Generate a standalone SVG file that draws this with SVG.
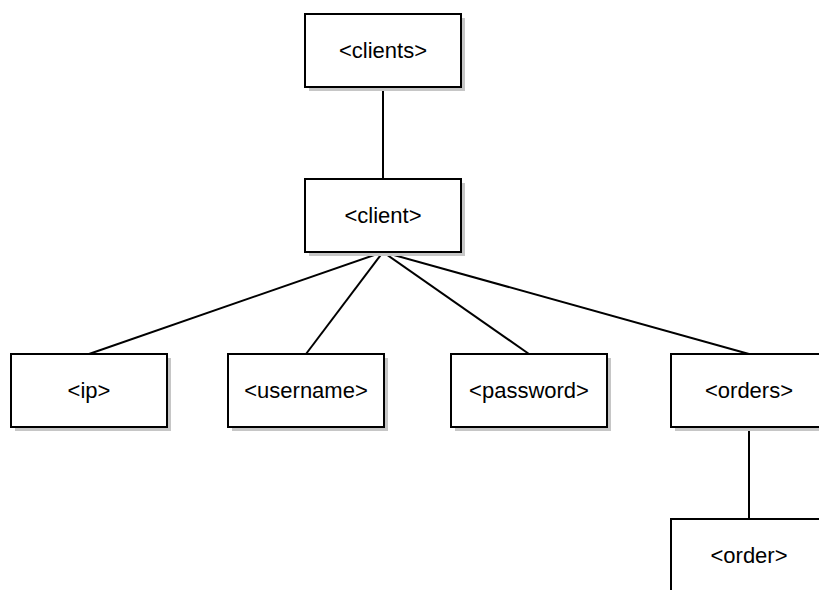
<svg xmlns="http://www.w3.org/2000/svg" width="819" height="590" viewBox="0 0 819 590">
  <style>
    .shadow { fill: #c6c6c6; }
    .box { fill: #ffffff; stroke: #000000; stroke-width: 2; }
    .label { font-family: "Liberation Sans", Arial, sans-serif; font-size: 22px; fill: #000000; text-anchor: middle; }
    .edge { stroke: #000000; stroke-width: 2; fill: none; }
  </style>
  <rect width="819" height="590" fill="#ffffff"/>
  <g id="connectors">
    <line class="edge" x1="383" y1="87" x2="383" y2="179"/>
    <line class="edge" x1="383" y1="252" x2="89" y2="354"/>
    <line class="edge" x1="383" y1="252" x2="306" y2="354"/>
    <line class="edge" x1="383" y1="252" x2="529" y2="354"/>
    <line class="edge" x1="383" y1="252" x2="749" y2="354"/>
    <line class="edge" x1="749" y1="427" x2="749" y2="519"/>
  </g>
  <g id="clients">
    <rect class="shadow" x="309" y="18" width="156" height="73"/>
    <rect class="box" x="305" y="14" width="156" height="73"/>
    <text class="label" x="383" y="58">&lt;clients&gt;</text>
  </g>
  <g id="client">
    <rect class="shadow" x="309" y="183" width="156" height="73"/>
    <rect class="box" x="305" y="179" width="156" height="73"/>
    <text class="label" x="383" y="223">&lt;client&gt;</text>
  </g>
  <g id="ip">
    <rect class="shadow" x="15" y="358" width="156" height="73"/>
    <rect class="box" x="11" y="354" width="156" height="73"/>
    <text class="label" x="89" y="398">&lt;ip&gt;</text>
  </g>
  <g id="username">
    <rect class="shadow" x="232" y="358" width="156" height="73"/>
    <rect class="box" x="228" y="354" width="156" height="73"/>
    <text class="label" x="306" y="398">&lt;username&gt;</text>
  </g>
  <g id="password">
    <rect class="shadow" x="455" y="358" width="156" height="73"/>
    <rect class="box" x="451" y="354" width="156" height="73"/>
    <text class="label" x="529" y="398">&lt;password&gt;</text>
  </g>
  <g id="orders">
    <rect class="shadow" x="675" y="358" width="156" height="73"/>
    <rect class="box" x="671" y="354" width="156" height="73"/>
    <text class="label" x="749" y="398">&lt;orders&gt;</text>
  </g>
  <g id="order">
    <rect class="shadow" x="675" y="523" width="156" height="73"/>
    <rect class="box" x="671" y="519" width="156" height="73"/>
    <text class="label" x="749" y="563">&lt;order&gt;</text>
  </g>
</svg>
